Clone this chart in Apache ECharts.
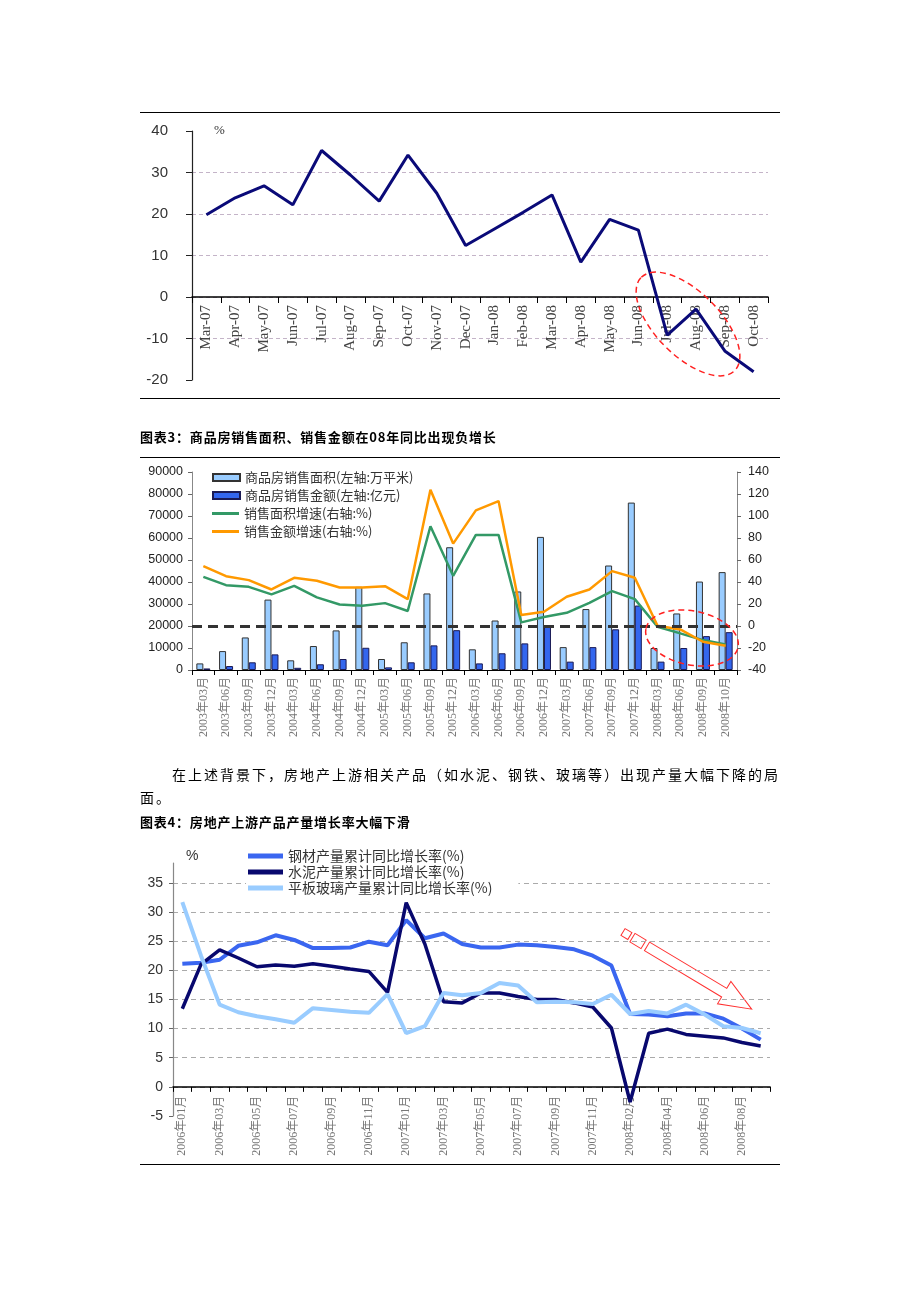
<!DOCTYPE html>
<html>
<head>
<meta charset="utf-8">
<script src="https://cdn.jsdelivr.net/npm/echarts@6/dist/echarts.min.js"></script>
<style>
html,body{margin:0;padding:0;background:#fff;}
#page{position:relative;width:920px;height:1302px;overflow:hidden;background:#fff;}
#chart{position:absolute;left:0;top:0;width:920px;height:1302px;}
.rule{position:absolute;left:140px;width:640px;height:0;border-top:1px solid #000;}
.cap{position:absolute;left:140px;font-family:"Noto Sans CJK SC",sans-serif;font-weight:bold;font-size:13px;line-height:16px;letter-spacing:0.8px;color:#000;white-space:nowrap;}
.para{position:absolute;font-family:"Noto Sans CJK SC",sans-serif;font-size:14px;line-height:18px;letter-spacing:2px;color:#000;white-space:nowrap;}
</style>
</head>
<body>
<div id="page">
  <div id="chart"></div>
  <div class="rule" style="top:112px"></div>
  <div class="rule" style="top:398px"></div>
  <div class="cap" style="top:429px">图表3：商品房销售面积、销售金额在08年同比出现负增长</div>
  <div class="rule" style="top:457px"></div>
  <div class="para" style="left:172px;top:765px">在上述背景下，房地产上游相关产品（如水泥、钢铁、玻璃等）出现产量大幅下降的局</div>
  <div class="para" style="left:140px;top:788px">面。</div>
  <div class="cap" style="top:814px">图表4：房地产上游产品产量增长率大幅下滑</div>
  <div class="rule" style="top:1164px"></div>
</div>
<script>
// ---------- Chart 1 data ----------
const topCats = ['Mar-07','Apr-07','May-07','Jun-07','Jul-07','Aug-07','Sep-07','Oct-07','Nov-07','Dec-07',
  'Jan-08','Feb-08','Mar-08','Apr-08','May-08','Jun-08','Jul-08','Aug-08','Sep-08','Oct-08'];
const topValues = [19.8,23.9,26.8,22.2,35.3,29.4,23.1,34.2,25.0,12.4,16.4,20.4,24.6,8.4,18.7,16.1,-9.2,-2.9,-13.0,-18.0];

// ---------- Chart 2 data ----------
const midCats = ['2003年03月','2003年06月','2003年09月','2003年12月',
  '2004年03月','2004年06月','2004年09月','2004年12月',
  '2005年03月','2005年06月','2005年09月','2005年12月',
  '2006年03月','2006年06月','2006年09月','2006年12月',
  '2007年03月','2007年06月','2007年09月','2007年12月',
  '2008年03月','2008年06月','2008年09月','2008年10月'];
const salesArea = [3000,8600,14800,32000,4400,10900,18000,37800,5000,12600,34800,55800,
  9400,22500,35700,60500,10400,27700,47500,76100,10000,25700,40200,44500];
const salesAmount = [700,1800,3500,7100,1000,2600,5000,10100,1200,3500,11200,18100,
  3000,7600,12100,20100,3800,10400,18500,29300,3800,10000,15400,17200];
const areaGrowth = [44.7,37.1,35.6,28.7,36.5,26.0,19.6,18.4,20.8,13.6,90.7,45.6,
  82.8,82.8,3.3,8.1,12.0,21.1,31.7,24.4,-0.7,-6.7,-12.8,-16.8];
const amountGrowth = [54.4,45.3,41.7,33.2,43.8,41.1,35.0,35.0,36.2,24.4,123.9,74.9,
  105.1,113.6,9.9,12.9,26.6,33.2,49.9,43.8,0.2,-3.1,-14.3,-17.9];

// ---------- Chart 3 data ----------
const prodCats = ['2006年01月','2006年02月','2006年03月','2006年04月','2006年05月','2006年06月',
  '2006年07月','2006年08月','2006年09月','2006年10月','2006年11月','2006年12月',
  '2007年01月','2007年02月','2007年03月','2007年04月','2007年05月','2007年06月',
  '2007年07月','2007年08月','2007年09月','2007年10月','2007年11月','2007年12月',
  '2008年02月','2008年03月','2008年04月','2008年05月','2008年06月','2008年07月','2008年08月','2008年09月'];
const steelGrowth = [21.1,21.3,21.8,24.2,24.8,26.0,25.2,23.8,23.8,23.9,24.9,24.3,
  28.6,25.5,26.3,24.5,23.9,23.9,24.4,24.3,24.0,23.6,22.5,20.8,
  12.5,12.4,12.1,12.6,12.6,11.7,10.0,8.1];
const cementGrowth = [13.4,21.0,23.5,22.1,20.6,20.9,20.7,21.1,20.7,20.2,19.8,16.2,
  31.6,24.5,14.6,14.4,16.1,16.1,15.5,15.0,15.0,14.4,13.7,10.1,
  -2.6,9.2,9.9,9.0,8.7,8.4,7.6,7.0];
const glassGrowth = [31.7,22.5,14.1,12.8,12.1,11.6,11.0,13.5,13.2,12.9,12.7,15.9,
  9.2,10.4,16.1,15.7,16.1,17.8,17.4,14.5,14.6,14.5,14.2,15.8,
  12.5,13.0,12.6,14.1,12.4,10.4,10.1,9.2];

const SERIF = '"Liberation Serif","Noto Sans CJK SC",serif';
const SANS = '"Liberation Sans","Noto Sans CJK SC",sans-serif';
const CJK = '"Noto Sans CJK SC",sans-serif';

// axis ranges and grid boxes
const g1 = {left: 192, top: 131, width: 576, height: 249};
const g2 = {left: 192, top: 472, width: 545, height: 198};
const g3 = {left: 173, top: 863, width: 597, height: 253};
const y1 = {min: -20, max: 40, interval: 10};
const y3 = {min: -5, max: 38.4, interval: 5};
// place the category axis on the value 0 line
const zeroOffset1 = -g1.height * (0 - y1.min) / (y1.max - y1.min);
const zeroOffset3 = -g3.height * (0 - y3.min) / (y3.max - y3.min);

const chart = echarts.init(document.getElementById('chart'), null, {renderer: 'canvas'});

const option = {
  animation: false,
  backgroundColor: 'transparent',
  grid: [g1, g2, g3],
  legend: [
    {
      data: [{name: '商品房销售面积(左轴:万平米)', icon: 'rect'}, {name: '商品房销售金额(左轴:亿元)', icon: 'rect'}],
      orient: 'vertical', left: 212, top: 471, padding: 0,
      itemWidth: 27, itemHeight: 7, itemGap: 5,
      textStyle: {fontFamily: CJK, fontSize: 13, color: '#333'}
    },
    {
      data: [{name: '销售面积增速(右轴:%)', icon: 'rect'}, {name: '销售金额增速(右轴:%)', icon: 'rect'}],
      orient: 'vertical', left: 212, top: 507, padding: 0,
      itemWidth: 27, itemHeight: 3, itemGap: 5,
      textStyle: {fontFamily: CJK, fontSize: 13, color: '#333'}
    },
    {
      data: [{name: '钢材产量累计同比增长率(%)', icon: 'rect'}, {name: '水泥产量累计同比增长率(%)', icon: 'rect'}, {name: '平板玻璃产量累计同比增长率(%)', icon: 'rect'}],
      orient: 'vertical', left: 246, top: 848, padding: [1, 26, 3, 2],
      backgroundColor: '#fff',
      itemWidth: 35, itemHeight: 5, itemGap: 2,
      textStyle: {fontFamily: CJK, fontSize: 14, color: '#333'}
    }
  ],
  xAxis: [
    {
      type: 'category', gridIndex: 0, data: topCats, boundaryGap: true, offset: zeroOffset1,
      axisLine: {onZero: false, lineStyle: {color: '#000', width: 1.5}},
      axisTick: {show: true, length: 6, lineStyle: {color: '#000'}},
      axisLabel: {rotate: 90, margin: 8, fontFamily: SERIF, fontSize: 15, color: '#444', interval: 0},
      splitLine: {show: false}
    },
    {
      type: 'category', gridIndex: 1, data: midCats, boundaryGap: true,
      axisLine: {lineStyle: {color: '#000', width: 1.2}},
      axisTick: {show: true, length: 5, lineStyle: {color: '#000'}},
      axisLabel: {rotate: 90, margin: 7, fontFamily: SERIF, fontSize: 12, color: '#777', interval: 0},
      splitLine: {show: false}
    },
    {
      type: 'category', gridIndex: 2, data: prodCats, boundaryGap: true, offset: zeroOffset3,
      axisLine: {onZero: false, lineStyle: {color: '#000', width: 1.5}},
      axisTick: {show: true, length: 5, interval: 0, lineStyle: {color: '#000'}},
      axisLabel: {rotate: 90, margin: 9, fontFamily: SERIF, fontSize: 12, color: '#777', interval: 1},
      splitLine: {show: false}
    }
  ],
  yAxis: [
    {
      type: 'value', gridIndex: 0, min: y1.min, max: y1.max, interval: y1.interval,
      axisLine: {show: true, lineStyle: {color: '#222', width: 1.2}},
      axisTick: {show: true, length: 6, lineStyle: {color: '#222'}},
      axisLabel: {margin: 24, fontFamily: SANS, fontSize: 15, color: '#333'},
      splitLine: {show: true, showMinLine: false, showMaxLine: false, lineStyle: {color: '#c4b4c8', type: [4, 3], width: 1}}
    },
    {
      type: 'value', gridIndex: 1, min: 0, max: 90000, interval: 10000, position: 'left',
      axisLine: {show: true, lineStyle: {color: '#888', width: 1}},
      axisTick: {show: true, length: 4, lineStyle: {color: '#666'}},
      axisLabel: {margin: 9, fontFamily: SANS, fontSize: 12.5, color: '#222', formatter: function (v) { return String(v); }},
      splitLine: {show: false}
    },
    {
      type: 'value', gridIndex: 1, min: -40, max: 140, interval: 20, position: 'right',
      axisLine: {show: true, lineStyle: {color: '#888', width: 1}},
      axisTick: {show: true, length: 4, lineStyle: {color: '#666'}},
      axisLabel: {margin: 11, fontFamily: SANS, fontSize: 12.5, color: '#222'},
      splitLine: {show: false}
    },
    {
      type: 'value', gridIndex: 2, min: y3.min, max: y3.max, interval: y3.interval,
      axisLine: {show: true, lineStyle: {color: '#888', width: 1.2}},
      axisTick: {show: true, length: 4, lineStyle: {color: '#666'}},
      axisLabel: {margin: 10, fontFamily: SANS, fontSize: 14, color: '#333', showMaxLabel: false},
      splitLine: {show: true, showMinLine: false, showMaxLine: false, lineStyle: {color: '#aaa', type: [5, 4], width: 1}}
    }
  ],
  series: [
    {
      name: '同比', type: 'line', xAxisIndex: 0, yAxisIndex: 0, data: topValues,
      symbol: 'none', lineStyle: {color: '#0a0a78', width: 3}, itemStyle: {color: '#0a0a78'}, z: 5
    },
    {
      name: '商品房销售面积(左轴:万平米)', type: 'bar', xAxisIndex: 1, yAxisIndex: 1, data: salesArea,
      barWidth: 7, barGap: '0%',
      itemStyle: {color: '#99ccff', borderColor: '#333', borderWidth: 1},
      markLine: {
        silent: true, symbol: 'none', label: {show: false},
        lineStyle: {color: '#333', type: [10, 6], width: 3},
        data: [{yAxis: 20000}]
      }
    },
    {
      name: '商品房销售金额(左轴:亿元)', type: 'bar', xAxisIndex: 1, yAxisIndex: 1, data: salesAmount,
      barWidth: 7, barGap: '0%',
      itemStyle: {color: '#3366ee', borderColor: '#1a1a55', borderWidth: 1}
    },
    {
      name: '销售面积增速(右轴:%)', type: 'line', xAxisIndex: 1, yAxisIndex: 2, data: areaGrowth,
      symbol: 'none', lineStyle: {color: '#339966', width: 2.5}, itemStyle: {color: '#339966'}, z: 4
    },
    {
      name: '销售金额增速(右轴:%)', type: 'line', xAxisIndex: 1, yAxisIndex: 2, data: amountGrowth,
      symbol: 'none', lineStyle: {color: '#ff9900', width: 2.5}, itemStyle: {color: '#ff9900'}, z: 4
    },
    {
      name: '钢材产量累计同比增长率(%)', type: 'line', xAxisIndex: 2, yAxisIndex: 3, data: steelGrowth,
      symbol: 'none', lineStyle: {color: '#3a66f0', width: 4}, itemStyle: {color: '#3a66f0'}
    },
    {
      name: '水泥产量累计同比增长率(%)', type: 'line', xAxisIndex: 2, yAxisIndex: 3, data: cementGrowth,
      symbol: 'none', lineStyle: {color: '#08086e', width: 3.5}, itemStyle: {color: '#08086e'}
    },
    {
      name: '平板玻璃产量累计同比增长率(%)', type: 'line', xAxisIndex: 2, yAxisIndex: 3, data: glassGrowth,
      symbol: 'none', lineStyle: {color: '#99ccff', width: 4}, itemStyle: {color: '#99ccff'}
    }
  ],
  graphic: [
    {type: 'text', left: 214, top: 124, style: {text: '%', font: '13px ' + SERIF, fill: '#333'}, z: 10},
    {type: 'text', left: 186, top: 849, style: {text: '%', font: '14px ' + SANS, fill: '#333'}, z: 10},
    {
      type: 'ellipse', x: 688, y: 324, rotation: -Math.PI / 4,
      shape: {cx: 0, cy: 0, rx: 66, ry: 32},
      style: {fill: 'none', stroke: '#ff2020', lineWidth: 1.5, lineDash: [6, 4]}, z: 10
    },
    {
      type: 'ellipse', x: 692, y: 638, rotation: -0.2,
      shape: {cx: 0, cy: 0, rx: 47, ry: 27},
      style: {fill: 'none', stroke: '#ff2020', lineWidth: 1.5, lineDash: [6, 4]}, z: 10
    },
    {
      type: 'group', x: 623, y: 932, rotation: -0.54, z: 10,
      children: [
        {type: 'rect', shape: {x: 0, y: -4, width: 8, height: 8}, style: {fill: '#fff', stroke: '#ff3030', lineWidth: 1}},
        {type: 'rect', shape: {x: 11, y: -5, width: 13, height: 10}, style: {fill: '#fff', stroke: '#ff3030', lineWidth: 1}},
        {type: 'polygon', shape: {points: [[28, -5], [118, -5], [118, -13], [150, 0], [118, 13], [118, 5], [28, 5]]},
         style: {fill: '#fff', stroke: '#ff3030', lineWidth: 1}}
      ]
    }
  ]
};
chart.setOption(option);
</script>
</body>
</html>
